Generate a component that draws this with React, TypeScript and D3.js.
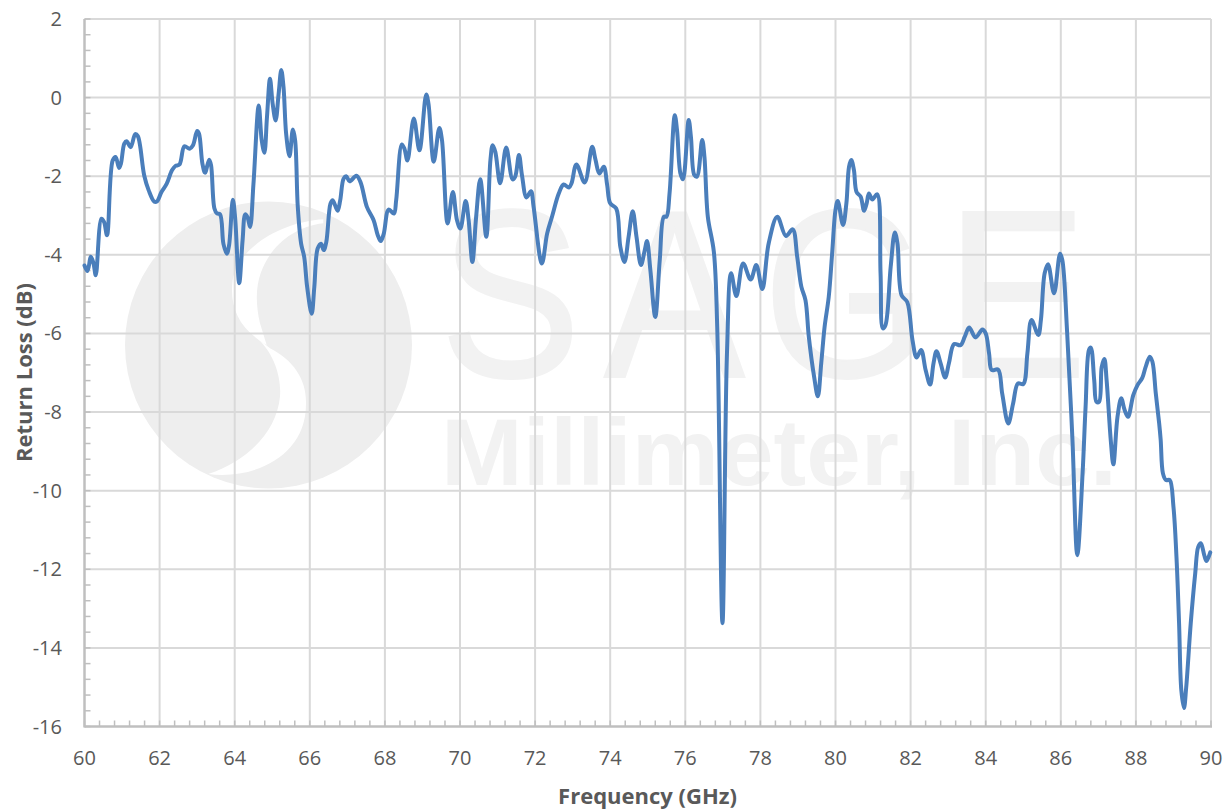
import React from "react";
import * as d3 from "d3";

const xTickValues = [60,62,64,66,68,70,72,74,76,78,80,82,84,86,88,90];
const yTickValues = [2,0,-2,-4,-6,-8,-10,-12,-14,-16];

const frequency = [
60.0,60.08,60.17,60.24,60.30,60.45,60.52,60.6,60.75,60.83,60.92,60.97,61.06,61.12,61.23,61.35,61.42,61.59,61.71,61.86,61.93,62.05,62.19,62.33,62.42,62.53,62.66,62.8,62.89,63.0,63.05,63.14,63.21,63.32,63.37,63.46,63.53,63.61,63.7,63.79,63.85,63.95,64.01,64.12,64.21,64.28,64.34,64.41,64.5,64.64,64.72,64.79,64.86,64.94,65.01,65.09,65.17,65.24,65.3,65.37,65.46,65.55,65.61,65.68,65.77,65.85,65.93,66.05,66.12,66.21,66.3,66.37,66.44,66.55,66.61,66.74,66.81,66.9,66.97,67.06,67.24,67.35,67.52,67.7,67.81,67.89,67.97,68.1,68.24,68.3,68.45,68.52,68.6,68.77,68.92,69.1,69.16,69.3,69.45,69.52,69.67,69.81,69.92,70.01,70.15,70.23,70.33,70.43,70.54,70.7,70.81,70.87,70.94,71.07,71.23,71.4,71.47,71.57,71.65,71.77,71.89,71.96,72.18,72.32,72.45,72.63,72.76,72.9,72.97,73.1,73.32,73.52,73.61,73.71,73.83,73.92,74.0,74.16,74.27,74.38,74.49,74.6,74.7,74.82,74.92,74.98,75.07,75.2,75.32,75.43,75.5,75.58,75.72,75.78,75.87,75.94,76.09,76.15,76.24,76.31,76.45,76.51,76.6,76.76,76.85,76.99,77.11,77.22,77.36,77.54,77.74,77.89,78.05,78.22,78.45,78.68,78.86,78.98,79.09,79.2,79.29,79.43,79.53,79.62,79.71,79.82,79.91,80.0,80.06,80.2,80.29,80.36,80.42,80.49,80.56,80.67,80.76,80.83,80.89,80.98,81.11,81.2,81.26,81.33,81.47,81.58,81.65,81.76,81.91,82.05,82.16,82.28,82.4,82.52,82.61,82.69,82.8,82.92,83.02,83.16,83.33,83.44,83.56,83.73,83.91,84.0,84.09,84.16,84.33,84.44,84.6,84.73,84.86,85.0,85.11,85.22,85.4,85.47,85.57,85.66,85.82,85.98,86.04,86.17,86.31,86.44,86.58,86.66,86.75,86.8,86.89,86.95,87.02,87.09,87.16,87.22,87.33,87.4,87.51,87.61,87.7,87.79,87.93,88.04,88.17,88.26,88.37,88.44,88.53,88.62,88.66,88.72,88.8,88.9,89.0,89.08,89.15,89.21,89.28,89.34,89.46,89.58,89.66,89.73,89.82,89.88,89.98];

const returnLoss = [
-4.27,-4.41,-4.05,-4.22,-4.52,-3.08,-3.16,-3.5,-1.6,-1.51,-1.79,-1.68,-1.17,-1.11,-1.26,-.93,-.98,-1.98,-2.36,-2.65,-2.64,-2.4,-2.19,-1.85,-1.74,-1.7,-1.24,-1.3,-1.21,-.85,-.92,-1.68,-1.91,-1.58,-1.72,-2.82,-2.95,-2.97,-3.72,-3.97,-3.76,-2.6,-3.04,-4.72,-3.63,-2.97,-3.04,-3.29,-2.19,-.2,-1.09,-1.4,-.49,.48,-.15,-.58,.1,.7,.27,-.92,-1.49,-.81,-1.09,-2.78,-3.72,-4.05,-4.82,-5.5,-4.82,-3.84,-3.72,-3.88,-3.67,-2.7,-2.61,-2.88,-2.61,-2.06,-2.0,-2.13,-1.99,-2.15,-2.78,-3.12,-3.5,-3.65,-3.46,-2.85,-2.95,-2.61,-1.19,-1.3,-1.6,-.53,-1.34,.08,-.15,-1.63,-.77,-1.08,-3.2,-2.4,-3.12,-3.33,-2.63,-3.12,-4.18,-3.03,-2.08,-3.54,-1.59,-1.21,-1.38,-2.18,-1.27,-2.08,-2.01,-1.46,-1.97,-2.54,-2.38,-2.78,-4.22,-3.46,-3.03,-2.44,-2.21,-2.29,-2.18,-1.7,-2.16,-1.25,-1.59,-1.93,-1.76,-2.23,-2.69,-2.82,-3.8,-4.18,-3.54,-2.89,-3.54,-4.26,-3.88,-3.65,-4.39,-5.58,-4.13,-3.03,-3.03,-2.44,-.45,-.83,-1.93,-2.08,-.57,-1.0,-1.97,-2.01,-1.08,-1.51,-3.03,-3.92,-5.83,-13.37,-6.5,-4.47,-5.05,-4.22,-4.63,-4.26,-4.87,-3.71,-3.03,-3.52,-3.35,-4.05,-4.81,-5.15,-6.09,-7.1,-7.6,-6.76,-5.83,-5.07,-3.97,-2.86,-2.63,-3.24,-2.69,-1.76,-1.59,-1.84,-2.4,-2.52,-2.88,-2.69,-2.44,-2.59,-2.46,-4.47,-5.87,-5.79,-4.3,-3.43,-3.71,-5.03,-5.2,-6.17,-6.61,-6.42,-6.93,-7.3,-6.76,-6.45,-6.76,-7.12,-6.76,-6.27,-6.3,-6.09,-5.85,-6.1,-5.9,-6.0,-6.51,-6.93,-6.92,-7.53,-8.29,-7.78,-7.27,-7.29,-6.51,-5.66,-6.04,-5.66,-4.47,-4.24,-4.98,-3.97,-4.13,-6.0,-8.7,-11.64,-9.56,-7.87,-6.42,-6.36,-7.19,-7.74,-7.74,-6.85,-6.65,-7.19,-8.71,-9.33,-8.12,-7.65,-7.95,-8.12,-7.57,-7.32,-7.13,-6.85,-6.59,-6.72,-7.53,-8.29,-8.71,-9.56,-9.73,-9.73,-10.41,-11.68,-13.38,-15.08,-15.53,-15,-13.38,-12.1,-11.43,-11.34,-11.64,-11.79,-11.57];

const FONT = "'Open Sans', sans-serif";
const WM_LOGO = "#eeeeee";
const WM_TEXT = "#f2f2f2";
const GRID = "#d9d9d9";
const AXIS = "#bfbfbf";
const TEXT = "#595959";
const LINE = "#4a7ebb";

const x = d3.scaleLinear().domain([60, 90]).range([84.5, 1211]);
const y = d3.scaleLinear().domain([-16, 2]).range([726.5, 19]);

const xMinor = d3.range(60, 90.01, 0.4);
const yMinor = d3.range(-16, 2.01, 0.4);

const lineGen = d3
  .line<number>()
  .x((d) => x(d))
  .y((_, i) => y(returnLoss[i]))
  .curve(d3.curveCatmullRom.alpha(0.5));

const sageLetters = [
  { ch: "S", at: 440 },
  { ch: "A", at: 604 },
  { ch: "G", at: 763 },
  { ch: "E", at: 946 },
];

function Watermark() {
  return (
    <g>
      <circle cx={268.5} cy={345} r={143.5} fill={WM_LOGO} />
      <g transform="translate(110,190) scale(0.3333)" fill="#fff">
        <path d="M640 88C520 95 385 170 368 270C358 350 385 415 470 465L450 400C436 340 438 290 452 250C480 170 550 110 640 100Z" />
        <path d="M480 475L430 435C490 480 515 560 510 620C500 720 420 810 295 852C430 870 590 800 588 640C590 570 550 510 480 475Z" />
      </g>
      {sageLetters.map((l) => (
        <text
          key={l.ch}
          transform={`translate(${l.at},377) scale(0.88,1)`}
          fontFamily="'Liberation Sans', sans-serif"
          fontSize={240}
          fill={WM_TEXT}
          stroke={WM_TEXT}
          strokeWidth={2}
        >
          {l.ch}
        </text>
      ))}
      <text
        x={441}
        y={485}
        fill={WM_TEXT}
        fontFamily="'Liberation Sans', sans-serif"
        fontWeight={700}
        fontSize={95}
        textLength={676}
        lengthAdjust="spacingAndGlyphs"
      >
        Millimeter, Inc.
      </text>
    </g>
  );
}

export default function App() {
  return (
    <svg
      width={1229}
      height={811}
      style={{ position: "absolute", left: 0, top: 0, display: "block", background: "#fff" }}
    >
      <Watermark />
      <g stroke={GRID} strokeWidth={2}>
        {xTickValues.slice(1).map((t) => (
          <line key={t} x1={x(t)} x2={x(t)} y1={y(2)} y2={y(-16)} />
        ))}
        {yTickValues.slice(0, -1).map((t) => (
          <line key={t} x1={x(60)} x2={x(90)} y1={y(t)} y2={y(t)} />
        ))}
      </g>
      <g stroke={AXIS} strokeWidth={1.5}>
        {yMinor.map((t) => (
          <line key={t} x1={x(60)} x2={x(60) + 6} y1={y(t)} y2={y(t)} />
        ))}
        {xMinor.map((t) => (
          <line key={t} x1={x(t)} x2={x(t)} y1={y(-16)} y2={y(-16) - 6} />
        ))}
        <line x1={x(60)} x2={x(60)} y1={y(2)} y2={y(-16) + 1} strokeWidth={2.5} />
        <line x1={x(60)} x2={x(90) + 1} y1={y(-16)} y2={y(-16)} strokeWidth={2.5} />
      </g>
      <path
        d={lineGen(frequency) ?? ""}
        fill="none"
        stroke={LINE}
        strokeWidth={4}
        strokeLinejoin="round"
        strokeLinecap="round"
      />
      <g fontFamily={FONT} fontSize={20} fill={TEXT}>
        {xTickValues.map((t) => (
          <text key={t} x={x(t)} y={765} textAnchor="middle">
            {t}
          </text>
        ))}
        {yTickValues.map((t) => (
          <text key={t} x={62} y={y(t) + 7} textAnchor="end">
            {t}
          </text>
        ))}
        <text x={647.5} y={804} textAnchor="middle" fontWeight={700} fontSize={22}>
          Frequency (GHz)
        </text>
        <text
          transform="translate(31.5,372.5) rotate(-90)"
          textAnchor="middle"
          fontWeight={700}
          fontSize={22}
        >
          Return Loss (dB)
        </text>
      </g>
    </svg>
  );
}
